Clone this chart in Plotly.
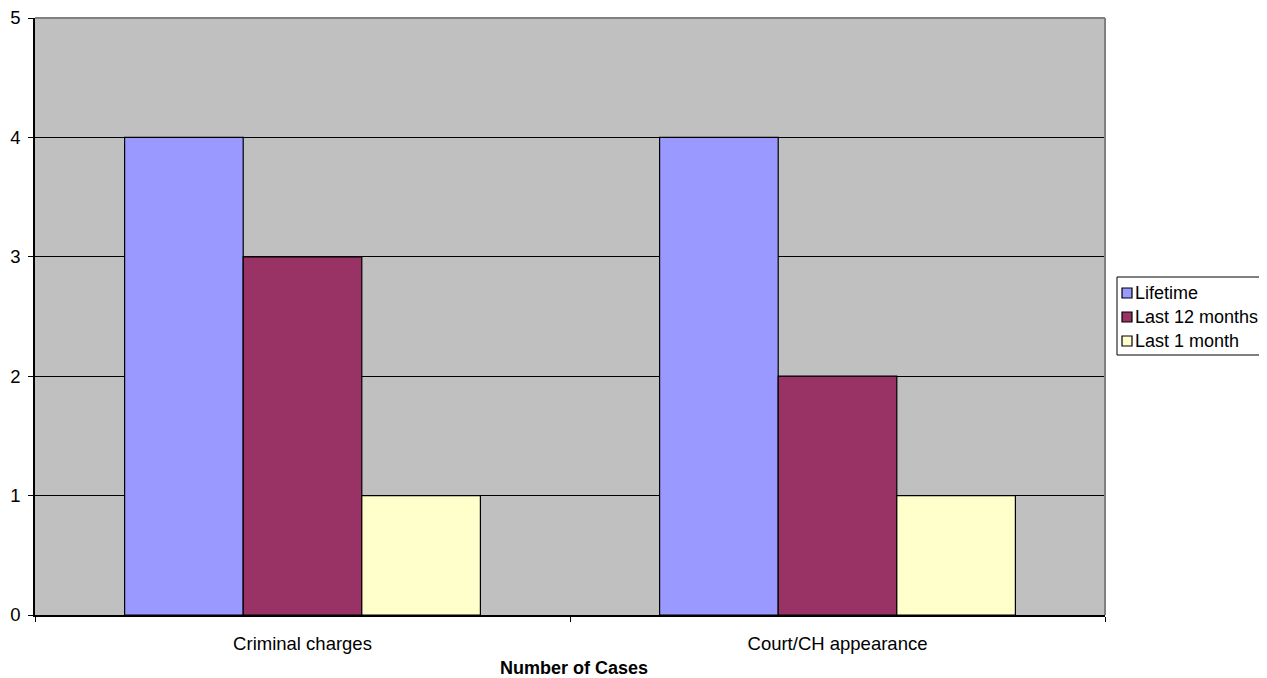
import plotly.graph_objects as go

categories = ["Criminal charges", "Court/CH appearance"]
series_names = ["Lifetime", "Last 12 months", "Last 1 month"]
lifetime = [4, 4]
last_12_months = [3, 2]
last_1_month = [1, 1]
colors = ["#9999FF", "#993366", "#FFFFCC"]
y_ticks = [0, 1, 2, 3, 4, 5]
x_title = "Number of Cases"

FS = 18.5
font_family = "Liberation Sans, Arial, sans-serif"

fig = go.Figure()
for name, vals, col in zip(series_names, [lifetime, last_12_months, last_1_month], colors):
    fig.add_trace(go.Bar(
        x=categories, y=vals, name=name,
        marker=dict(color=col, line=dict(color="black", width=1.2)),
        showlegend=False,
    ))

# page has an 8px body margin; plot area lands at screen x 35..1105, y 18..615
W, H = 1259, 670
L, R, T, B = 27, 162, 10, 63
pw, ph = W - L - R, H - T - B


def px(sx):
    return (sx - 8 - L) / pw


def py(sy):
    return (H - B - (sy - 8)) / ph


shapes = [
    dict(type="line", xref="paper", yref="paper", x0=0, x1=1, y0=1, y1=1,
         line=dict(color="#808080", width=2), layer="above"),
    dict(type="line", xref="paper", yref="paper", x0=1, x1=1, y0=0, y1=1,
         line=dict(color="#808080", width=2), layer="above"),
    # legend box
    dict(type="rect", xref="paper", yref="paper", x0=px(1117), x1=px(1268),
         y0=py(355), y1=py(277), line=dict(color="black", width=1),
         fillcolor="white", layer="above"),
]
annotations = [dict(xref="paper", yref="paper", x=px(574), y=py(668),
                    xanchor="center", yanchor="middle", text="<b>" + x_title + "</b>",
                    showarrow=False, font=dict(size=18, color="black"))]
for i, (name, col) in enumerate(zip(series_names, colors)):
    cy = 293 + 24 * i
    shapes.append(dict(type="rect", xref="paper", yref="paper",
                       x0=px(1122), x1=px(1132), y0=py(cy + 5), y1=py(cy - 5),
                       fillcolor=col, line=dict(color="black", width=1.2), layer="above"))
    annotations.append(dict(xref="paper", yref="paper", x=px(1133), y=py(cy),
                            xanchor="left", yanchor="middle", text=name,
                            showarrow=False, font=dict(size=18, color="black")))

fig.update_layout(
    width=W, height=H,
    margin=dict(l=L, r=R, t=T, b=B, autoexpand=False),
    paper_bgcolor="white",
    plot_bgcolor="#C0C0C0",
    barmode="group",
    bargap=0.335,
    bargroupgap=0,
    font=dict(family=font_family, size=FS, color="black"),
    xaxis=dict(
        automargin=False,
        tickson="boundaries", ticks="outside", ticklen=5, tickcolor="black",
        showline=True, linecolor="black", linewidth=1.5,
        tickfont=dict(size=FS), ticklabelstandoff=11,
    ),
    yaxis=dict(
        automargin=False, ticklabeloverflow="allow",
        range=[0, 5], tickvals=y_ticks, ticks="outside", ticklen=5, tickcolor="black",
        showline=True, linecolor="black", linewidth=1.5,
        showgrid=True, gridcolor="black", gridwidth=1,
        zeroline=False, tickfont=dict(size=FS), ticklabelstandoff=4,
    ),
    shapes=shapes,
    annotations=annotations,
)
fig.write_html("out.html")
